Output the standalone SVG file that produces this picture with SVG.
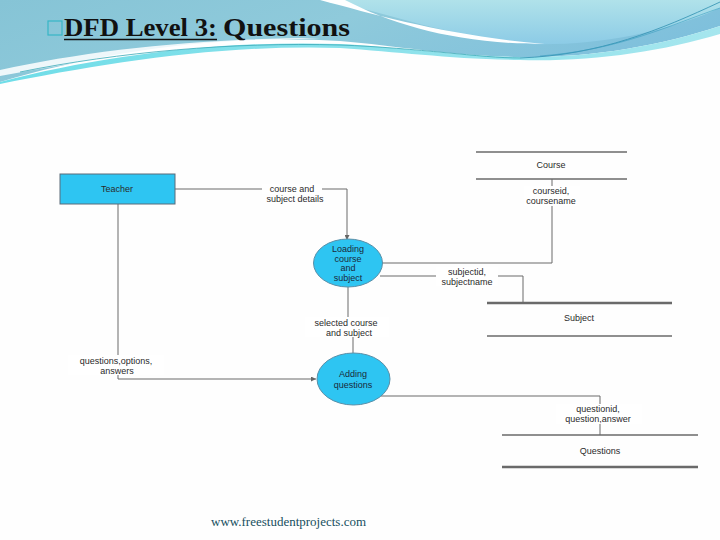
<svg xmlns="http://www.w3.org/2000/svg" width="720" height="540" viewBox="0 0 720 540">
<defs>
<linearGradient id="hdr" x1="0" y1="0" x2="1" y2="0.3">
<stop offset="0" stop-color="#86c4d6"/>
<stop offset="0.5" stop-color="#8fcadb"/>
<stop offset="1" stop-color="#7fc0dc"/>
</linearGradient>
<linearGradient id="tr" x1="0" y1="0" x2="0" y2="1">
<stop offset="0" stop-color="#b0e2ea"/>
<stop offset="1" stop-color="#8ccbe6"/>
</linearGradient>
<linearGradient id="cy" x1="0" y1="0" x2="1" y2="0">
<stop offset="0" stop-color="#6fdde8"/>
<stop offset="1" stop-color="#a6e6ee"/>
</linearGradient>
<marker id="ah" viewBox="0 0 6 6" refX="6" refY="3" markerWidth="5" markerHeight="5" orient="auto">
<path d="M0,0 L6,3 L0,6 Z" fill="#666"/>
</marker>
<style>
.ln{fill:none;stroke:#6a6a6a;stroke-width:1}
.st{stroke:#6a6a6a;stroke-width:1.5}
.stb{stroke:#6a6a6a;stroke-width:2.5}
.t{font-family:"Liberation Sans",Arial,sans-serif;font-size:9px;fill:#2a2a2a;text-anchor:middle}
.tp{font-family:"Liberation Sans",Arial,sans-serif;font-size:9px;fill:#1a2a3a;text-anchor:middle}
.proc{fill:#2ec5f2;stroke:#5a8fa8;stroke-width:1}
.bg{fill:#ffffff}
</style>
</defs>
<rect width="720" height="540" fill="#fefefe"/>
<g id="header">
<path d="M0,0 H720 V26 C660,46 590,58 520,57 C450,56 400,46 340,41 C220,34 100,52 0,82 Z" fill="url(#hdr)"/>
<path d="M330,0 H720 V8 C660,35 590,46 530,44 C460,38 400,18 330,0 Z" fill="url(#tr)"/>
<path d="M0,82 C100,56 220,40 340,44 C400,47 450,56 520,57 C590,58 660,46 720,26 V34 C660,52 590,62 520,60 C450,59 400,52 340,48 C220,44 100,64 0,84 Z" fill="url(#cy)"/>
<path d="M320,0 C380,16 450,36 545,44 C460,44 395,26 345,0 Z" fill="#ffffff"/>
<path d="M0,70 C90,50 200,38 320,38 C210,42 100,58 0,76 Z" fill="#ffffff" opacity="0.85"/>
<path d="M20,72 C120,52 230,42 340,45 C420,48 480,58 520,58" fill="none" stroke="#3aaab8" stroke-width="0.8"/>
<path d="M520,58 C600,55 660,30 720,2" fill="none" stroke="#2f8fb0" stroke-width="0.8"/>
<path d="M540,56 C620,50 670,25 720,8" fill="none" stroke="#3a9ec0" stroke-width="0.6"/>
<rect x="48" y="21" width="14" height="14" fill="none" stroke="#36b6c6" stroke-width="1.2"/>
<text x="64" y="36" font-family="'Liberation Serif','Times New Roman',serif" font-size="26" font-weight="bold" fill="#111" textLength="153" lengthAdjust="spacingAndGlyphs">DFD Level 3:</text>
<line x1="64" y1="39.5" x2="217" y2="39.5" stroke="#111" stroke-width="1.6"/>
<text x="223" y="36" font-family="'Liberation Serif','Times New Roman',serif" font-size="26" font-weight="bold" fill="#111" textLength="127" lengthAdjust="spacingAndGlyphs">Questions</text>
</g>
<g id="connectors">
<polyline class="ln" points="175,189 347,189 347,240" marker-end="url(#ah)"/>
<polyline class="ln" points="552,179 552,263 382,263"/>
<polyline class="ln" points="380,276 523,276 523,303"/>
<polyline class="ln" points="348,287 348,320"/>
<polyline class="ln" points="353,336 353,353"/>
<polyline class="ln" points="118,204 118,379 316,379" marker-end="url(#ah)"/>
<polyline class="ln" points="381,396 600,396 600,435"/>
<rect class="bg" x="262" y="184" width="60" height="10"/>
<text class="t" x="292" y="192">course and</text>
<text class="t" x="295" y="202">subject details</text>
<rect class="bg" x="524" y="186" width="56" height="20"/>
<text class="t" x="551" y="194">courseid,</text>
<text class="t" x="551" y="204">coursename</text>
<rect class="bg" x="436" y="267" width="62" height="19"/>
<text class="t" x="467" y="275">subjectid,</text>
<text class="t" x="467" y="285">subjectname</text>
<rect class="bg" x="305" y="317" width="84" height="20"/>
<text class="t" x="346" y="326">selected course</text>
<text class="t" x="349" y="336">and subject</text>
<rect class="bg" x="68" y="355" width="96" height="20"/>
<text class="t" x="116" y="364">questions,options,</text>
<text class="t" x="117" y="374">answers</text>
<rect class="bg" x="556" y="404" width="86" height="20"/>
<text class="t" x="598" y="412">questionid,</text>
<text class="t" x="598" y="422">question,answer</text>
</g>
<g id="teacher">
<rect x="60" y="174" width="115" height="30" fill="#2ec5f2" stroke="#5a6a78" stroke-width="1"/>
<text class="t" x="117" y="192">Teacher</text>
</g>
<g id="loading">
<ellipse class="proc" cx="348" cy="263" rx="34.5" ry="24"/>
<text class="tp" x="348" y="252">Loading</text>
<text class="tp" x="348" y="261.5">course</text>
<text class="tp" x="348" y="271">and</text>
<text class="tp" x="348" y="280.5">subject</text>
</g>
<g id="adding">
<ellipse class="proc" cx="353.5" cy="379" rx="36.5" ry="26"/>
<text class="tp" x="353" y="377">Adding</text>
<text class="tp" x="353" y="388">questions</text>
</g>
<g id="course">
<line class="st" x1="476" y1="152" x2="627" y2="152"/>
<line class="st" x1="476" y1="179" x2="627" y2="179"/>
<text class="t" x="551" y="168">Course</text>
</g>
<g id="subject">
<line class="stb" x1="487" y1="303" x2="672" y2="303"/>
<line class="st" x1="487" y1="336" x2="672" y2="336"/>
<text class="t" x="579" y="321">Subject</text>
</g>
<g id="questions">
<line class="st" x1="502" y1="435" x2="698" y2="435"/>
<line class="stb" x1="502" y1="467" x2="698" y2="467"/>
<text class="t" x="600" y="454">Questions</text>
</g>
<text x="211" y="526" font-family="'Liberation Serif','Times New Roman',serif" font-size="13" fill="#174f60" textLength="155" lengthAdjust="spacingAndGlyphs">www.freestudentprojects.com</text>
</svg>
